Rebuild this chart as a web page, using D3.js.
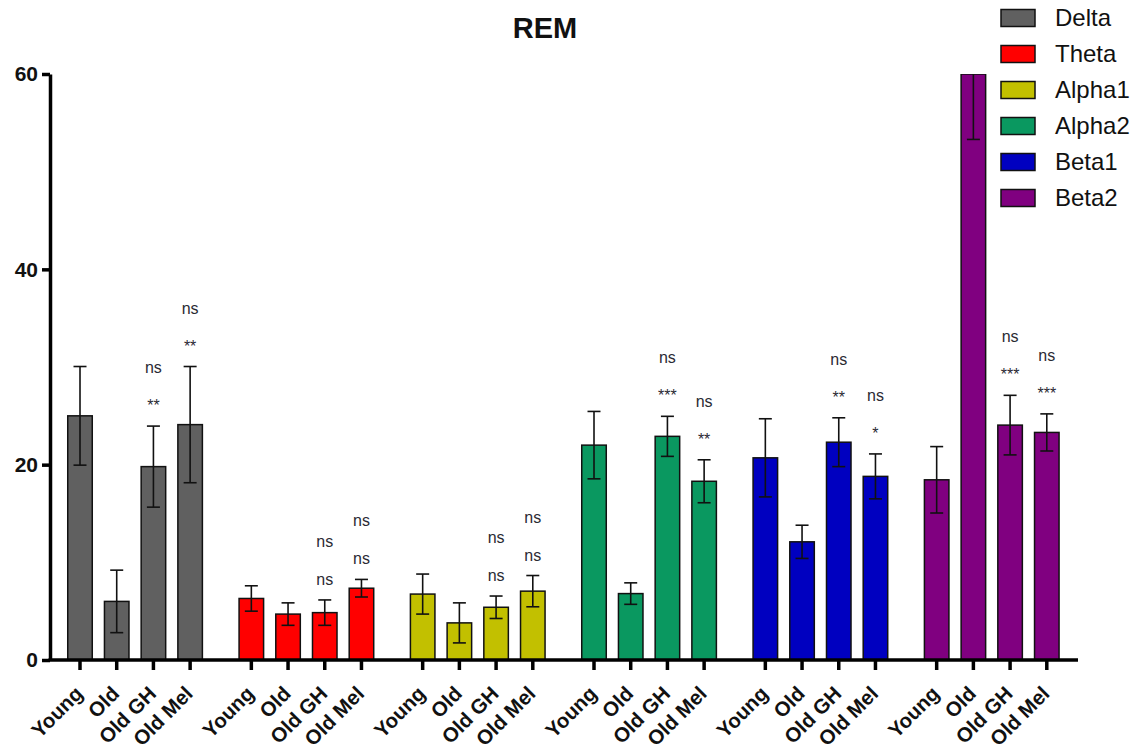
<!DOCTYPE html>
<html>
<head>
<meta charset="utf-8">
<script src="https://cdn.jsdelivr.net/npm/d3@7"></script>
<style>
  html, body { margin: 0; padding: 0; background: #fff; }
  svg { display: block; font-family: "Liberation Sans", Arial, sans-serif; }
</style>
</head>
<body>
<svg id="chart" width="1141" height="751"></svg>
<script>
// Frequency bands and experimental groups
const bands = ["Delta", "Theta", "Alpha1", "Alpha2", "Beta1", "Beta2"];
const conditions = ["Young", "Old", "Old GH", "Old Mel"];
const bandColors = ["#606060", "#ff0000", "#c2c000", "#0a9860", "#0000c0", "#800080"];

// Mean power (%) per band, in the order of `conditions`
const deltaMean  = [25.0, 6.0, 19.8, 24.1];
const thetaMean  = [6.3, 4.7, 4.85, 7.35];
const alpha1Mean = [6.75, 3.8, 5.4, 7.05];
const alpha2Mean = [22.0, 6.8, 22.9, 18.3];
const beta1Mean  = [20.7, 12.1, 22.3, 18.8];
const beta2Mean  = [18.45, 60, 24.05, 23.3];

// Standard error of the mean
const deltaSem  = [5.05, 3.2, 4.15, 5.95];
const thetaSem  = [1.3, 1.15, 1.3, 0.9];
const alpha1Sem = [2.05, 2.05, 1.15, 1.6];
const alpha2Sem = [3.45, 1.1, 2.05, 2.2];
const beta1Sem  = [4.0, 1.7, 2.5, 2.3];
const beta2Sem  = [3.4, 6.7, 3.05, 1.9];

// Significance marks for the treated groups (Old GH, Old Mel)
const sigVsOld   = [["**", "**"], ["ns", "ns"], ["ns", "ns"], ["***", "**"], ["**", "*"], ["***", "***"]];
const sigVsYoung = [["ns", "ns"], ["ns", "ns"], ["ns", "ns"], ["ns", "ns"], ["ns", "ns"], ["ns", "ns"]];

const yTicks = [0, 20, 40, 60];

const means = [deltaMean, thetaMean, alpha1Mean, alpha2Mean, beta1Mean, beta2Mean];
const sems  = [deltaSem, thetaSem, alpha1Sem, alpha2Sem, beta1Sem, beta2Sem];

const rows = [];
bands.forEach((b, gi) => {
  conditions.forEach((c, ci) => {
    rows.push({ band: b, cond: c, gi, ci, mean: means[gi][ci], sem: sems[gi][ci], color: bandColors[gi] });
  });
});

const svg = d3.select("#chart");

const axisX = 50, baseY = 660, topY = 74, axisRight = 1078;

const y = d3.scaleLinear().domain([0, 60]).range([baseY, topY]);
const xGroup = d3.scaleBand().domain(bands).range([61.65, 1065.15]).paddingInner(0.143).paddingOuter(0);
const xInner = d3.scaleBand().domain(conditions).range([0, xGroup.bandwidth()]).paddingInner(0.332).paddingOuter(0.166);
const cx = d => xGroup(d.band) + xInner(d.cond) + xInner.bandwidth() / 2;

// Clip marks to the plotting area
svg.append("defs").append("clipPath").attr("id", "plot")
  .append("rect").attr("x", axisX).attr("y", topY).attr("width", axisRight - axisX).attr("height", baseY - topY);

const plot = svg.append("g").attr("clip-path", "url(#plot)");

// Bars
plot.selectAll("rect.bar").data(rows).enter().append("rect")
  .attr("class", "bar")
  .attr("x", d => xGroup(d.band) + xInner(d.cond))
  .attr("width", xInner.bandwidth())
  .attr("y", d => y(d.mean))
  .attr("height", d => y(0) - y(d.mean))
  .attr("fill", d => d.color)
  .attr("stroke", "#111")
  .attr("stroke-width", 1.5);

// Error bars
const err = plot.selectAll("g.err").data(rows).enter().append("g").attr("class", "err")
  .attr("stroke", "#111").attr("stroke-width", 1.6);
err.append("line")
  .attr("x1", cx).attr("x2", cx)
  .attr("y1", d => y(d.mean + d.sem)).attr("y2", d => y(d.mean - d.sem));
err.append("line")
  .attr("x1", d => cx(d) - 6.5).attr("x2", d => cx(d) + 6.5)
  .attr("y1", d => y(d.mean + d.sem)).attr("y2", d => y(d.mean + d.sem));
err.append("line")
  .attr("x1", d => cx(d) - 6.5).attr("x2", d => cx(d) + 6.5)
  .attr("y1", d => y(d.mean - d.sem)).attr("y2", d => y(d.mean - d.sem));

// Significance labels above the treated groups
const treated = rows.filter(d => d.ci >= 2);
const sig = svg.selectAll("g.sig").data(treated).enter().append("g").attr("class", "sig")
  .attr("font-size", 16).attr("fill", "#2a2a33").attr("text-anchor", "middle");
sig.append("text")
  .attr("x", cx).attr("y", d => y(d.mean + d.sem) - 15)
  .text(d => sigVsOld[d.gi][d.ci - 2]);
sig.append("text")
  .attr("x", cx).attr("y", d => y(d.mean + d.sem) - 53)
  .text(d => sigVsYoung[d.gi][d.ci - 2]);

// Y axis
const yAxis = d3.axisLeft(y).tickValues(yTicks).tickSize(8).tickSizeOuter(0).tickPadding(4);
const gy = svg.append("g").attr("transform", `translate(${axisX},0)`).call(yAxis);
gy.select(".domain").attr("stroke", "#000").attr("stroke-width", 3.5);
gy.selectAll(".tick line").attr("stroke", "#000").attr("stroke-width", 3.5);
gy.selectAll(".tick text").attr("font-size", 21).attr("font-weight", "bold").attr("fill", "#111")
  .attr("font-family", "Liberation Sans, Arial, sans-serif");

// X axis: baseline, ticks at each bar, rotated labels
svg.append("line").attr("x1", axisX - 1.5).attr("x2", axisRight).attr("y1", baseY).attr("y2", baseY)
  .attr("stroke", "#000").attr("stroke-width", 3.5);
svg.selectAll("line.xtick").data(rows).enter().append("line").attr("class", "xtick")
  .attr("x1", cx).attr("x2", cx).attr("y1", baseY).attr("y2", baseY + 10)
  .attr("stroke", "#000").attr("stroke-width", 3.5);
svg.selectAll("text.xlab").data(rows).enter().append("text").attr("class", "xlab")
  .attr("transform", d => `translate(${cx(d) + 4},${baseY + 35}) rotate(-45)`)
  .attr("text-anchor", "end")
  .attr("font-size", 20.5).attr("font-weight", "bold").attr("fill", "#111")
  .text(d => d.cond);

// Title
svg.append("text").attr("x", 545).attr("y", 38).attr("text-anchor", "middle")
  .attr("font-size", 29).attr("font-weight", "bold").attr("fill", "#111").text("REM");

// Legend
const legend = svg.append("g").attr("transform", "translate(1001,18)");
const li = legend.selectAll("g").data(bands).enter().append("g")
  .attr("transform", (d, i) => `translate(0,${i * 36})`);
li.append("rect").attr("x", 0).attr("y", -8.5).attr("width", 34).attr("height", 17)
  .attr("fill", (d, i) => bandColors[i]).attr("stroke", "#111").attr("stroke-width", 1.5);
li.append("text").attr("x", 54).attr("y", 0).attr("dy", "0.35em")
  .attr("font-size", 24).attr("fill", "#111").text(d => d);
</script>
</body>
</html>
